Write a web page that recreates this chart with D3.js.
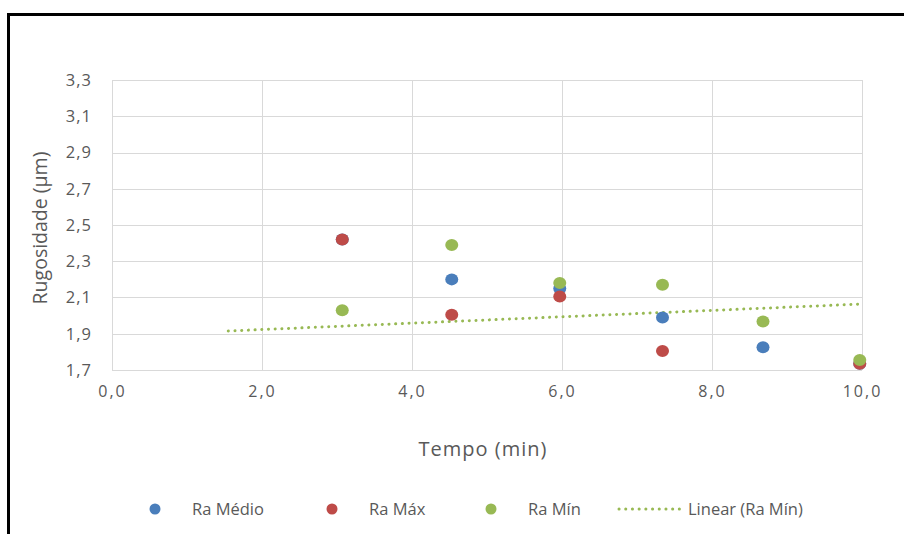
<!DOCTYPE html>
<html>
<head>
<meta charset="utf-8">
<title>Rugosidade x Tempo</title>
<script src="https://d3js.org/d3.v7.min.js"></script>
<style>
  body { margin: 0; background: #fff; }
  text { font-family: "Open Sans", "Noto Sans", sans-serif; fill: #595959; }
  .grid line { stroke: #d9d9d9; stroke-width: 1; shape-rendering: crispEdges; }
</style>
</head>
<body>
<script>
// data
var seriesNames = ["Ra Médio", "Ra Máx", "Ra Mín"];
var seriesColors = ["#4a7ebb", "#be4b48", "#98b954"];
var tempo = [3.07, 4.53, 5.97, 7.34, 8.68, 9.97];
var raMedio = [2.42, 2.20, 2.15, 1.99, 1.825, 1.735];
var raMax = [2.42, 2.005, 2.105, 1.805, null, 1.735];
var raMin = [2.03, 2.39, 2.18, 2.17, 1.967, 1.755];
// trend line "Linear (Ra Mín)" as drawn in the source
var trendRange = [1.55, 10.0];
var trendSlope = 0.0176;
var trendIntercept = 1.888;
var xTicks = [0, 2, 4, 6, 8, 10];
var yTicks = [1.7, 1.9, 2.1, 2.3, 2.5, 2.7, 2.9, 3.1, 3.3];

var W = 904, H = 534;
var margin = {left: 112, right: 42, top: 80, bottom: 164};

var svg = d3.select("body").append("svg")
    .attr("width", W).attr("height", H);

// chart frame (top and left edges only visible)
svg.append("line").attr("x1", 8.5).attr("x2", W).attr("y1", 14.5).attr("y2", 14.5)
    .attr("stroke", "#000").attr("stroke-width", 3);
svg.append("line").attr("x1", 8.5).attr("x2", 8.5).attr("y1", 13).attr("y2", H)
    .attr("stroke", "#000").attr("stroke-width", 3);

var x = d3.scaleLinear().domain([0, 10]).range([margin.left, W - margin.right]);
var y = d3.scaleLinear().domain([1.7, 3.3]).range([H - margin.bottom, margin.top]);

var fmt = function(d) { return d3.format(".1f")(d).replace(".", ","); };

// gridlines
var grid = svg.append("g").attr("class", "grid");
grid.selectAll(".h").data(yTicks).enter().append("line")
    .attr("x1", x(0)).attr("x2", x(10))
    .attr("y1", function(d) { return Math.round(y(d)) + 0.5; })
    .attr("y2", function(d) { return Math.round(y(d)) + 0.5; });
grid.selectAll(".v").data(xTicks).enter().append("line")
    .attr("y1", y(1.7)).attr("y2", y(3.3))
    .attr("x1", function(d) { return Math.round(x(d)) + 0.5; })
    .attr("x2", function(d) { return Math.round(x(d)) + 0.5; });

// axes (labels only)
var yAxis = svg.append("g")
    .attr("transform", "translate(" + x(0) + ",0)")
    .call(d3.axisLeft(y).tickValues(yTicks).tickFormat(fmt).tickSize(0).tickPadding(20));
var xAxis = svg.append("g")
    .attr("transform", "translate(0," + y(1.7) + ")")
    .call(d3.axisBottom(x).tickValues(xTicks).tickFormat(fmt).tickSize(0).tickPadding(16));
yAxis.selectAll("text").style("font-size", "16.5px").style("letter-spacing", "1px");
xAxis.selectAll("text").style("font-size", "16px").style("letter-spacing", "2px");
[xAxis, yAxis].forEach(function(a) {
  a.select(".domain").remove();
  a.selectAll("text").style("font-family", "'Open Sans', sans-serif").attr("fill", "#595959");
});

// trend line
var line = d3.line().x(function(d) { return x(d); })
    .y(function(d) { return y(trendIntercept + trendSlope * d); });
svg.append("path").datum(trendRange)
    .attr("d", line)
    .attr("fill", "none").attr("stroke", "#98b954")
    .attr("stroke-width", 3).attr("stroke-dasharray", "0.1 6.6")
    .attr("stroke-linecap", "round");

// points
[raMedio, raMax, raMin].forEach(function(vals, i) {
  var pts = tempo.map(function(t, j) { return {t: t, v: vals[j]}; })
      .filter(function(d) { return d.v != null; });
  svg.append("g").selectAll("ellipse").data(pts).enter().append("ellipse")
      .attr("cx", function(d) { return x(d.t); })
      .attr("cy", function(d) { return y(d.v); })
      .attr("rx", 6.5).attr("ry", 6)
      .attr("fill", seriesColors[i]);
});

// axis titles
svg.append("text").attr("x", 483).attr("y", 456)
    .attr("text-anchor", "middle").style("font-size", "20px")
    .style("letter-spacing", "1px").text("Tempo (min)");
svg.append("text")
    .attr("transform", "translate(47,228) rotate(-90)")
    .attr("text-anchor", "middle").style("font-size", "19.5px").text("Rugosidade (µm)");

// legend
var legY = 509;
var legX = [155, 332, 491];
seriesNames.forEach(function(n, i) {
  svg.append("circle").attr("cx", legX[i]).attr("cy", legY).attr("r", 5.5)
      .attr("fill", seriesColors[i]);
  svg.append("text").attr("x", legX[i] + 37).attr("y", legY + 6)
      .style("font-size", "16.5px").text(n);
});
svg.append("line").attr("x1", 619).attr("x2", 680).attr("y1", legY).attr("y2", legY)
    .attr("stroke", "#98b954").attr("stroke-width", 3)
    .attr("stroke-dasharray", "0.1 6.6").attr("stroke-linecap", "round");
svg.append("text").attr("x", 688).attr("y", legY + 6)
    .style("font-size", "16.5px").text("Linear (Ra Mín)");
</script>
</body>
</html>
